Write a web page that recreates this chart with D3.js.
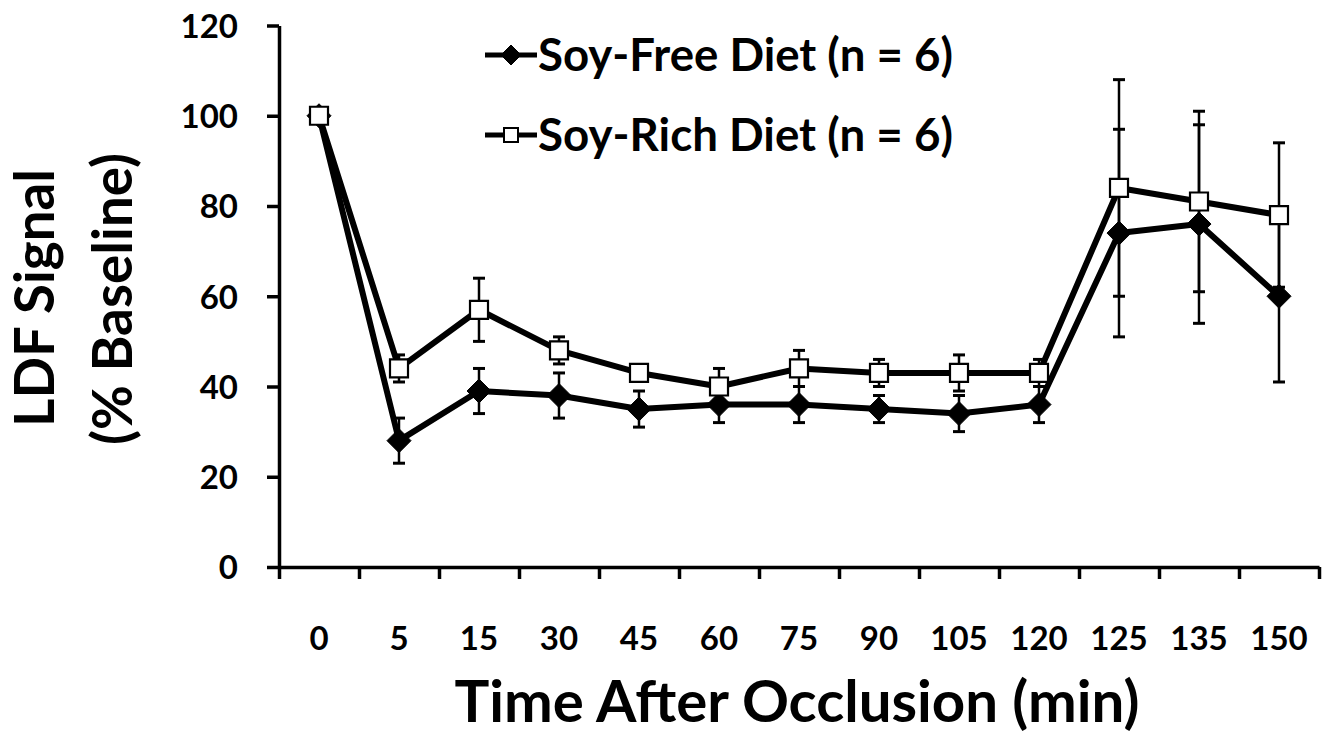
<!DOCTYPE html>
<html><head><meta charset="utf-8">
<script src="https://cdn.jsdelivr.net/npm/d3@7"></script>
<style>
html,body{margin:0;padding:0;background:#fff;}
svg{display:block;}
text{font-family:Lato,"Open Sans",sans-serif;font-weight:bold;fill:#000;}
</style></head>
<body><svg id="c" width="1335" height="745"></svg>
<script>
const categories = ["0","5","15","30","45","60","75","90","105","120","125","135","150"];
const soyFree    = [100, 28, 39, 38, 35, 36, 36, 35, 34, 36, 74, 76, 60];
const soyFreeErr = [0, 5, 5, 5, 4, 4, 4, 3, 4, 4, 23, 22, 19];
const soyRich    = [100, 44, 57, 48, 43, 40, 44, 43, 43, 43, 84, 81, 78];
const soyRichErr = [0, 3, 7, 3, 1, 4, 4, 3, 4, 3, 24, 20, 16];
const yTicks = [0, 20, 40, 60, 80, 100, 120];
const seriesNames = ["Soy-Free Diet (n = 6)", "Soy-Rich Diet (n = 6)"];

const svg = d3.select("#c");
const L = 279, R = 1319, T = 25.5, B = 567;

const x = d3.scaleBand().domain(categories).range([L, R]);
const xEdge = d3.scaleLinear().domain([0, categories.length]).range([L, R]);
const y = d3.scaleLinear().domain([0, 120]).range([B, T]);

// Y axis
const ya = svg.append("g").attr("transform", `translate(${L},0)`)
  .call(d3.axisLeft(y).tickValues(yTicks).tickSize(12).tickSizeOuter(0).tickPadding(29));
ya.select(".domain").attr("stroke", "#000").attr("stroke-width", 3.5);
ya.selectAll(".tick line").attr("stroke", "#000").attr("stroke-width", 3.5);
ya.selectAll(".tick text").style("font-size", "33px").attr("dy", "0.36em");

// X axis edge ticks
const xe = svg.append("g").attr("transform", `translate(0,${B})`)
  .call(d3.axisBottom(xEdge).tickValues(d3.range(categories.length + 1)).tickSize(12).tickSizeOuter(0).tickFormat(""));
xe.select(".domain").attr("stroke", "#000").attr("stroke-width", 3.5);
xe.selectAll(".tick line").attr("stroke", "#000").attr("stroke-width", 3.5);
// labels
const xl = svg.append("g").attr("transform", `translate(0,${B})`)
  .call(d3.axisBottom(x).tickSize(0).tickPadding(60));
xl.select(".domain").remove();
xl.selectAll(".tick text").style("font-size", "33px");

const cx = (i) => x(categories[i]) + x.bandwidth() / 2;

function drawSeries(vals, errs, type) {
  const g = svg.append("g");
  // error bars
  const eb = g.selectAll("g.eb").data(vals.map((v, i) => ({v, e: errs[i], i})).filter(d => d.e > 0))
    .join("g");
  eb.append("line").attr("x1", d => cx(d.i)).attr("x2", d => cx(d.i))
    .attr("y1", d => y(d.v - d.e)).attr("y2", d => y(d.v + d.e))
    .attr("stroke", "#000").attr("stroke-width", 2.5);
  [1, -1].forEach(s => {
    eb.append("line").attr("x1", d => cx(d.i) - 6).attr("x2", d => cx(d.i) + 6)
      .attr("y1", d => y(d.v + s * d.e)).attr("y2", d => y(d.v + s * d.e))
      .attr("stroke", "#000").attr("stroke-width", 3);
  });
  // line
  g.append("path").datum(vals)
    .attr("d", d3.line().x((d, i) => cx(i)).y(d => y(d)))
    .attr("fill", "none").attr("stroke", "#000").attr("stroke-width", 6).attr("stroke-linejoin", "round");
  // markers
  g.selectAll("path.m").data(vals).join("path")
    .attr("transform", (d, i) => `translate(${cx(i)},${y(d)})`)
    .attr("d", type === "diamond" ? "M0,-12L12,0L0,12L-12,0Z" : "M-9,-9H9V9H-9Z")
    .attr("fill", type === "diamond" ? "#000" : "#fff")
    .attr("stroke", "#000").attr("stroke-width", type === "diamond" ? 1 : 2.2);
}
drawSeries(soyFree, soyFreeErr, "diamond");
drawSeries(soyRich, soyRichErr, "square");

// legend
const legY = [55, 135];
seriesNames.forEach((name, k) => {
  const g = svg.append("g").attr("transform", `translate(485,${legY[k]})`);
  g.append("line").attr("x1", 0).attr("x2", 52).attr("y1", 0).attr("y2", 0)
    .attr("stroke", "#000").attr("stroke-width", 5);
  g.append("path").attr("transform", "translate(26,0)")
    .attr("d", k === 0 ? "M0,-10L10,0L0,10L-10,0Z" : "M-7,-7H7V7H-7Z")
    .attr("fill", k === 0 ? "#000" : "#fff").attr("stroke", "#000").attr("stroke-width", k === 0 ? 1 : 2);
  const t = g.append("text").attr("x", 53).attr("y", 0).attr("dy", "0.35em").style("font-size", "40px").text(name);
  const w = t.node().getComputedTextLength();
  t.style("font-size", (40 * 415 / w) + "px");
});

// axis titles
function fitText(sel, base, target) {
  const w = sel.node().getComputedTextLength();
  sel.style("font-size", (base * target / w) + "px");
}
const xt = svg.append("text").attr("x", 797).attr("y", 722).attr("text-anchor", "middle")
  .style("font-size", "50px").text("Time After Occlusion (min)");
fitText(xt, 50, 685);

const yt1 = svg.append("text").attr("transform", "translate(54,298) rotate(-90)").attr("text-anchor", "middle")
  .style("font-size", "50px").text("LDF Signal");
fitText(yt1, 50, 258);
const yt2 = svg.append("text").attr("transform", "translate(132,299) rotate(-90)").attr("text-anchor", "middle")
  .style("font-size", "50px").text("(% Baseline)");
fitText(yt2, 50, 292);
</script></body></html>
